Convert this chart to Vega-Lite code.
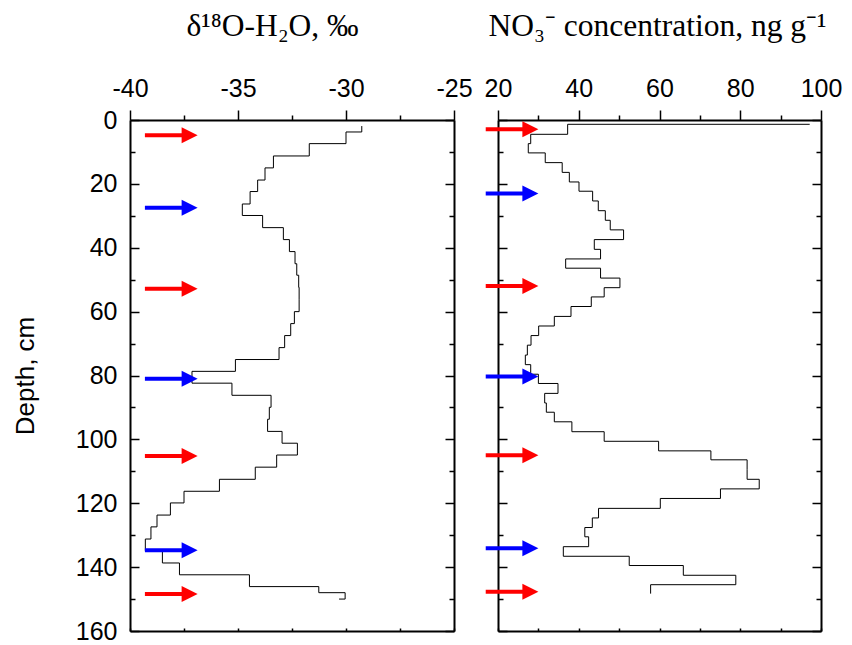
{
  "$schema": "https://vega.github.io/schema/vega-lite/v6.json",
  "padding": {"left": 12, "top": 10, "right": 5, "bottom": 5},
  "background": "white",
  "bounds": "flush",
  "spacing": 44,
  "config": {
    "view": {"stroke": null},
    "axis": {
      "domainColor": "black", "domainWidth": 2, "tickColor": "black", "tickWidth": 1.5,
      "labelColor": "black", "labelFont": "Liberation Sans", "labelFontSize": 25,
      "labelFlush": false, "labelOverlap": false, "grid": false,
      "titleColor": "black", "titleFontWeight": "normal"
    }
  },
  "datasets": {
    "d18o": [
      {"i": 0, "depth": 1.9, "d18O": -29.27},
      {"i": 1, "depth": 3.75, "d18O": -30.0},
      {"i": 2, "depth": 7.4, "d18O": -31.7},
      {"i": 3, "depth": 11.26, "d18O": -33.36},
      {"i": 4, "depth": 15.0, "d18O": -33.75},
      {"i": 5, "depth": 18.8, "d18O": -34.09},
      {"i": 6, "depth": 22.4, "d18O": -34.44},
      {"i": 7, "depth": 26.3, "d18O": -34.8},
      {"i": 8, "depth": 29.9, "d18O": -33.86},
      {"i": 9, "depth": 33.7, "d18O": -32.9},
      {"i": 10, "depth": 37.45, "d18O": -32.62},
      {"i": 11, "depth": 41.2, "d18O": -32.36},
      {"i": 12, "depth": 45.0, "d18O": -32.28},
      {"i": 13, "depth": 48.6, "d18O": -32.19},
      {"i": 14, "depth": 52.4, "d18O": -32.17},
      {"i": 15, "depth": 56.1, "d18O": -32.17},
      {"i": 16, "depth": 60.0, "d18O": -32.39},
      {"i": 17, "depth": 63.75, "d18O": -32.56},
      {"i": 18, "depth": 67.5, "d18O": -32.84},
      {"i": 19, "depth": 71.27, "d18O": -33.1},
      {"i": 20, "depth": 75.0, "d18O": -35.12},
      {"i": 21, "depth": 78.7, "d18O": -37.13},
      {"i": 22, "depth": 82.4, "d18O": -35.28},
      {"i": 23, "depth": 86.2, "d18O": -33.47},
      {"i": 24, "depth": 89.95, "d18O": -33.55},
      {"i": 25, "depth": 93.7, "d18O": -33.63},
      {"i": 26, "depth": 97.5, "d18O": -32.96},
      {"i": 27, "depth": 101.2, "d18O": -32.25},
      {"i": 28, "depth": 104.9, "d18O": -33.21},
      {"i": 29, "depth": 108.7, "d18O": -34.2},
      {"i": 30, "depth": 112.5, "d18O": -35.86},
      {"i": 31, "depth": 116.25, "d18O": -37.5},
      {"i": 32, "depth": 119.9, "d18O": -38.13},
      {"i": 33, "depth": 123.7, "d18O": -38.75},
      {"i": 34, "depth": 127.4, "d18O": -39.03},
      {"i": 35, "depth": 131.2, "d18O": -39.29},
      {"i": 36, "depth": 134.9, "d18O": -38.5},
      {"i": 37, "depth": 138.7, "d18O": -37.71},
      {"i": 38, "depth": 142.4, "d18O": -34.47},
      {"i": 39, "depth": 146.1, "d18O": -31.26},
      {"i": 40, "depth": 148.0, "d18O": -30.04},
      {"i": 41, "depth": 150.0, "d18O": -30.32}
    ],
    "no3": [
      {"i": 0, "depth": 1.35, "no3": 97.2},
      {"i": 1, "depth": 1.35, "no3": 37.25},
      {"i": 2, "depth": 4.48, "no3": 28.1},
      {"i": 3, "depth": 7.4, "no3": 27.5},
      {"i": 4, "depth": 10.3, "no3": 31.7},
      {"i": 5, "depth": 13.35, "no3": 35.9},
      {"i": 6, "depth": 16.4, "no3": 37.67},
      {"i": 7, "depth": 19.4, "no3": 40.06},
      {"i": 8, "depth": 22.3, "no3": 43.44},
      {"i": 9, "depth": 25.35, "no3": 44.84},
      {"i": 10, "depth": 28.4, "no3": 46.58},
      {"i": 11, "depth": 31.4, "no3": 47.8},
      {"i": 12, "depth": 34.4, "no3": 51.1},
      {"i": 13, "depth": 37.45, "no3": 43.85},
      {"i": 14, "depth": 40.5, "no3": 45.4},
      {"i": 15, "depth": 43.5, "no3": 36.76},
      {"i": 16, "depth": 46.4, "no3": 45.4},
      {"i": 17, "depth": 49.5, "no3": 50.2},
      {"i": 18, "depth": 52.5, "no3": 46.3},
      {"i": 19, "depth": 55.4, "no3": 43.1},
      {"i": 20, "depth": 58.4, "no3": 38.08},
      {"i": 21, "depth": 61.5, "no3": 33.95},
      {"i": 22, "depth": 64.5, "no3": 30.07},
      {"i": 23, "depth": 67.5, "no3": 28.18},
      {"i": 24, "depth": 70.5, "no3": 27.27},
      {"i": 25, "depth": 73.6, "no3": 26.77},
      {"i": 26, "depth": 76.6, "no3": 28.1},
      {"i": 27, "depth": 79.6, "no3": 30.0},
      {"i": 28, "depth": 82.5, "no3": 34.86},
      {"i": 29, "depth": 85.6, "no3": 31.56},
      {"i": 30, "depth": 88.6, "no3": 31.97},
      {"i": 31, "depth": 91.5, "no3": 33.95},
      {"i": 32, "depth": 94.5, "no3": 38.3},
      {"i": 33, "depth": 97.6, "no3": 46.3},
      {"i": 34, "depth": 100.6, "no3": 59.78},
      {"i": 35, "depth": 103.6, "no3": 72.73},
      {"i": 36, "depth": 106.4, "no3": 81.7},
      {"i": 37, "depth": 109.5, "no3": 81.7},
      {"i": 38, "depth": 112.5, "no3": 84.7},
      {"i": 39, "depth": 115.5, "no3": 75.1},
      {"i": 40, "depth": 118.5, "no3": 60.2},
      {"i": 41, "depth": 121.6, "no3": 44.9},
      {"i": 42, "depth": 124.6, "no3": 43.36},
      {"i": 43, "depth": 127.6, "no3": 41.5},
      {"i": 44, "depth": 130.5, "no3": 42.45},
      {"i": 45, "depth": 133.6, "no3": 36.18},
      {"i": 46, "depth": 136.6, "no3": 52.5},
      {"i": 47, "depth": 139.5, "no3": 65.9},
      {"i": 48, "depth": 142.55, "no3": 78.9},
      {"i": 49, "depth": 145.5, "no3": 57.8},
      {"i": 50, "depth": 148.3, "no3": 57.8}
    ],
    "arrowsL": [
      {"depth": 4.8, "season": "summer"},
      {"depth": 27.5, "season": "winter"},
      {"depth": 52.8, "season": "summer"},
      {"depth": 81.0, "season": "winter"},
      {"depth": 105.2, "season": "summer"},
      {"depth": 134.7, "season": "winter"},
      {"depth": 148.4, "season": "summer"}
    ],
    "arrowsR": [
      {"depth": 2.9, "season": "summer"},
      {"depth": 23.0, "season": "winter"},
      {"depth": 52.0, "season": "summer"},
      {"depth": 80.3, "season": "winter"},
      {"depth": 105.0, "season": "summer"},
      {"depth": 134.1, "season": "winter"},
      {"depth": 147.7, "season": "summer"}
    ]
  },
  "hconcat": [
    {
      "width": 324,
      "height": 511,
      "resolve": {"axis": {"x": "independent", "y": "independent"}},
      "layer": [
        {
          "data": {"name": "d18o"},
          "mark": {"type": "line", "interpolate": "step-before", "color": "black", "strokeWidth": 1},
          "encoding": {
            "x": {
              "field": "d18O", "type": "quantitative",
              "scale": {"domain": [-40, -25], "nice": false, "zero": false},
              "axis": {
                "orient": "top", "title": "δ¹⁸O-H₂O, ‰", "titleFont": "Liberation Serif", "titleFontSize": 31.5,
                "titlePadding": 34, "titleX": 142,
                "values": [-40, -37.5, -35, -32.5, -30, -27.5, -25],
                "labelExpr": "datum.value % 5 === 0 ? '' + datum.value : ''",
                "tickSize": {"condition": {"test": "datum.value % 5 === 0", "value": 10}, "value": 5},
                "labelPadding": 9
              }
            },
            "y": {
              "field": "depth", "type": "quantitative",
              "scale": {"domain": [0, 160], "reverse": true, "nice": false, "zero": false},
              "axis": {
                "orient": "left", "title": "Depth, cm", "titleFont": "Liberation Sans", "titleFontSize": 26,
                "titlePadding": 37,
                "values": [0, 10, 20, 30, 40, 50, 60, 70, 80, 90, 100, 110, 120, 130, 140, 150, 160],
                "labelExpr": "datum.value % 20 === 0 ? '' + datum.value : ''",
                "tickSize": {"condition": {"test": "datum.value % 20 === 0", "value": -9}, "value": -5},
                "labelPadding": 22
              }
            },
            "order": {"field": "i", "type": "quantitative"}
          }
        },
        {
          "data": {"name": "arrowsL"},
          "mark": {"type": "rule", "strokeWidth": 4, "strokeCap": "butt"},
          "encoding": {
            "x": {
              "datum": -39.31, "type": "quantitative",
              "axis": {"orient": "bottom", "title": null, "labels": false,
                       "values": [-40, -37.5, -35, -32.5, -30, -27.5, -25], "tickSize": -3}
            },
            "x2": {"datum": -37.24},
            "y": {
              "field": "depth", "type": "quantitative",
              "axis": {"orient": "right", "title": null, "labels": false,
                       "values": [0, 10, 20, 30, 40, 50, 60, 70, 80, 90, 100, 110, 120, 130, 140, 150, 160],
                       "tickSize": {"condition": {"test": "datum.value % 20 === 0", "value": -9}, "value": -5}}
            },
            "color": {"field": "season", "type": "nominal",
                      "scale": {"domain": ["summer", "winter"], "range": ["#ff0000", "#0000ff"]}, "legend": null}
          }
        },
        {
          "data": {"name": "arrowsL"},
          "mark": {"type": "point", "shape": "M-1,-1L1,0L-1,1Z", "size": 256, "filled": true, "opacity": 1, "strokeWidth": 0},
          "encoding": {
            "x": {"datum": -37.24, "type": "quantitative", "axis": null},
            "y": {"field": "depth", "type": "quantitative", "axis": null},
            "color": {"field": "season", "type": "nominal", "legend": null}
          }
        }
      ]
    },
    {
      "width": 323,
      "height": 511,
      "resolve": {"axis": {"x": "independent", "y": "independent"}},
      "layer": [
        {
          "data": {"name": "no3"},
          "mark": {"type": "line", "interpolate": "step-before", "color": "black", "strokeWidth": 1},
          "encoding": {
            "x": {
              "field": "no3", "type": "quantitative",
              "scale": {"domain": [20, 100], "nice": false, "zero": false},
              "axis": {
                "orient": "top", "title": "NO₃⁻ concentration, ng g⁻¹", "titleFont": "Liberation Serif", "titleFontSize": 31.5,
                "titlePadding": 34, "titleX": 159,
                "values": [20, 30, 40, 50, 60, 70, 80, 90, 100],
                "labelExpr": "datum.value % 20 === 0 ? '' + datum.value : ''",
                "tickSize": {"condition": {"test": "datum.value % 20 === 0", "value": 10}, "value": 5},
                "labelPadding": 9
              }
            },
            "y": {
              "field": "depth", "type": "quantitative",
              "scale": {"domain": [0, 160], "reverse": true, "nice": false, "zero": false},
              "axis": {
                "orient": "left", "title": null, "labels": false,
                "values": [0, 10, 20, 30, 40, 50, 60, 70, 80, 90, 100, 110, 120, 130, 140, 150, 160],
                "tickSize": {"condition": {"test": "datum.value % 20 === 0", "value": -9}, "value": -5}
              }
            },
            "order": {"field": "i", "type": "quantitative"}
          }
        },
        {
          "data": {"name": "arrowsR"},
          "mark": {"type": "rule", "strokeWidth": 4, "strokeCap": "butt"},
          "encoding": {
            "x": {
              "datum": 16.96, "type": "quantitative",
              "axis": {"orient": "bottom", "title": null, "labels": false,
                       "values": [20, 30, 40, 50, 60, 70, 80, 90, 100], "tickSize": -3}
            },
            "x2": {"datum": 28.02},
            "y": {
              "field": "depth", "type": "quantitative",
              "axis": {"orient": "right", "title": null, "labels": false,
                       "values": [0, 10, 20, 30, 40, 50, 60, 70, 80, 90, 100, 110, 120, 130, 140, 150, 160],
                       "tickSize": {"condition": {"test": "datum.value % 20 === 0", "value": -9}, "value": -5}}
            },
            "color": {"field": "season", "type": "nominal", "legend": null}
          }
        },
        {
          "data": {"name": "arrowsR"},
          "mark": {"type": "point", "shape": "M-1,-1L1,0L-1,1Z", "size": 256, "filled": true, "opacity": 1, "strokeWidth": 0},
          "encoding": {
            "x": {"datum": 28.02, "type": "quantitative", "axis": null},
            "y": {"field": "depth", "type": "quantitative", "axis": null},
            "color": {"field": "season", "type": "nominal", "legend": null}
          }
        }
      ]
    }
  ]
}
